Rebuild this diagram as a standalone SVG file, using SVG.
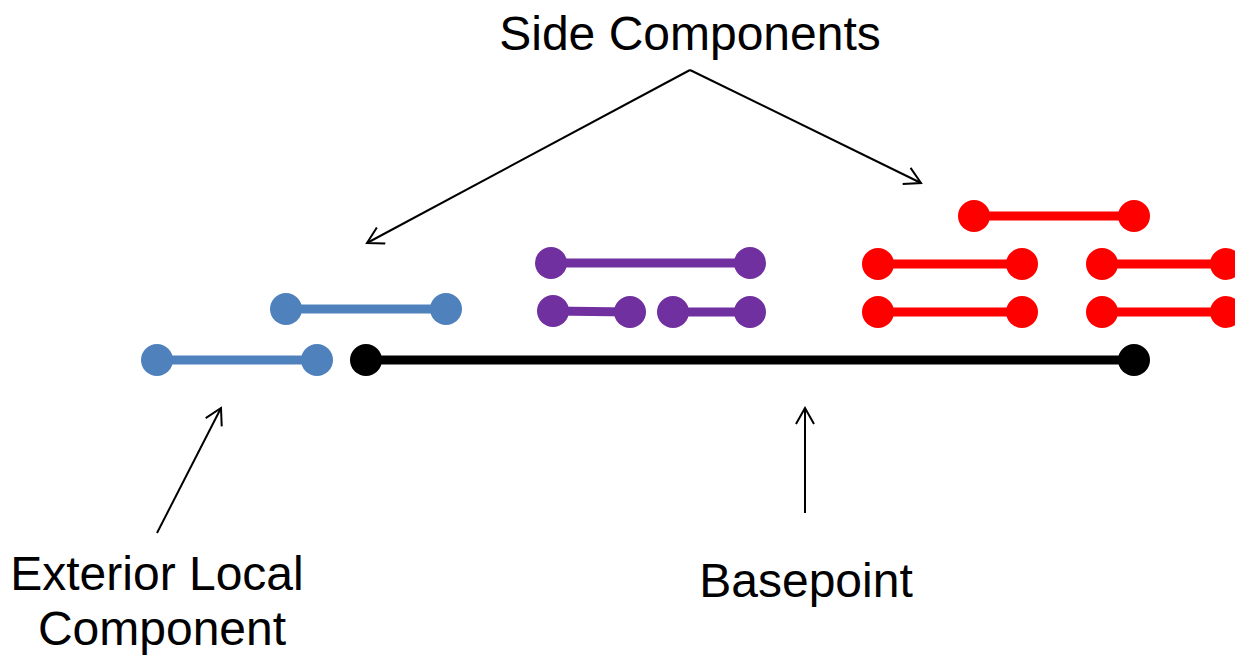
<svg xmlns="http://www.w3.org/2000/svg" width="1235" height="655" viewBox="0 0 1235 655">
  <style>
    .bar { stroke-width: 9; stroke-linecap: butt; fill: none; }
    .blue { stroke: #4F81BD; fill: #4F81BD; }
    .purple { stroke: #7030A0; fill: #7030A0; }
    .red { stroke: #FF0000; fill: #FF0000; }
    .black { stroke: #000000; fill: #000000; }
    .dot { stroke: none; }
    .label { font-family: "Liberation Sans", Arial, sans-serif; font-size: 48px; fill: #000000; }
    .pointer { stroke: #000000; stroke-width: 2; fill: none; marker-end: url(#openArrow); }
  </style>
  <defs>
    <marker id="openArrow" viewBox="0 0 20 20" refX="18" refY="10" markerWidth="20" markerHeight="20" markerUnits="userSpaceOnUse" orient="auto">
      <path d="M2,1 L18,10 L2,19" fill="none" stroke="#000000" stroke-width="2"/>
    </marker>
  </defs>

  <rect width="1235" height="655" fill="#ffffff"/>

  <!-- exterior local components (blue) -->
  <g id="blue-upper" class="blue">
    <line class="bar" x1="286" y1="309" x2="446" y2="309"/>
    <circle class="dot" cx="286" cy="309" r="16"/>
    <circle class="dot" cx="446" cy="309" r="16"/>
  </g>
  <g id="blue-lower" class="blue">
    <line class="bar" x1="157" y1="360" x2="317" y2="360"/>
    <circle class="dot" cx="157" cy="360" r="16"/>
    <circle class="dot" cx="317" cy="360" r="16"/>
  </g>

  <!-- basepoint (black) -->
  <g id="basepoint-bar" class="black">
    <line class="bar" x1="366" y1="360" x2="1134" y2="360"/>
    <circle class="dot" cx="366" cy="360" r="16"/>
    <circle class="dot" cx="1134" cy="360" r="16"/>
  </g>

  <!-- purple components -->
  <g id="purple-top" class="purple">
    <line class="bar" x1="551" y1="263" x2="750" y2="263"/>
    <circle class="dot" cx="551" cy="263" r="16"/>
    <circle class="dot" cx="750" cy="263" r="16"/>
  </g>
  <g id="purple-left" class="purple">
    <line class="bar" x1="553" y1="311" x2="630" y2="312"/>
    <circle class="dot" cx="553" cy="311" r="16"/>
    <circle class="dot" cx="630" cy="312" r="16"/>
  </g>
  <g id="purple-right" class="purple">
    <line class="bar" x1="673" y1="312" x2="750" y2="312"/>
    <circle class="dot" cx="673" cy="312" r="16"/>
    <circle class="dot" cx="750" cy="312" r="16"/>
  </g>

  <!-- red components -->
  <g id="red-top" class="red">
    <line class="bar" x1="974" y1="216" x2="1134" y2="216"/>
    <circle class="dot" cx="974" cy="216" r="16"/>
    <circle class="dot" cx="1134" cy="216" r="16"/>
  </g>
  <g id="red-mid-left" class="red">
    <line class="bar" x1="878" y1="264" x2="1022" y2="264"/>
    <circle class="dot" cx="878" cy="264" r="16"/>
    <circle class="dot" cx="1022" cy="264" r="16"/>
  </g>
  <g id="red-mid-right" class="red">
    <line class="bar" x1="1102" y1="264" x2="1226" y2="264"/>
    <circle class="dot" cx="1102" cy="264" r="16"/>
    <circle class="dot" cx="1226" cy="264" r="16"/>
  </g>
  <g id="red-low-left" class="red">
    <line class="bar" x1="878" y1="312" x2="1022" y2="312"/>
    <circle class="dot" cx="878" cy="312" r="16"/>
    <circle class="dot" cx="1022" cy="312" r="16"/>
  </g>
  <g id="red-low-right" class="red">
    <line class="bar" x1="1102" y1="312" x2="1226" y2="312"/>
    <circle class="dot" cx="1102" cy="312" r="16"/>
    <circle class="dot" cx="1226" cy="312" r="16"/>
  </g>

  <!-- labels -->
  <g id="label-side">
    <text class="label" x="690" y="50" text-anchor="middle">Side Components</text>
  </g>
  <g id="label-exterior">
    <text class="label" x="157" y="590" text-anchor="middle">Exterior Local</text>
    <text class="label" x="162" y="645" text-anchor="middle">Component</text>
  </g>
  <g id="label-basepoint">
    <text class="label" x="806" y="597" text-anchor="middle">Basepoint</text>
  </g>

  <!-- pointers -->
  <g id="connectors">
    <line class="pointer" x1="690" y1="70" x2="367" y2="243"/>
    <line class="pointer" x1="690" y1="70" x2="921" y2="183"/>
    <line class="pointer" x1="157" y1="533" x2="221" y2="408"/>
    <line class="pointer" x1="805" y1="513" x2="805" y2="408"/>
  </g>
</svg>
